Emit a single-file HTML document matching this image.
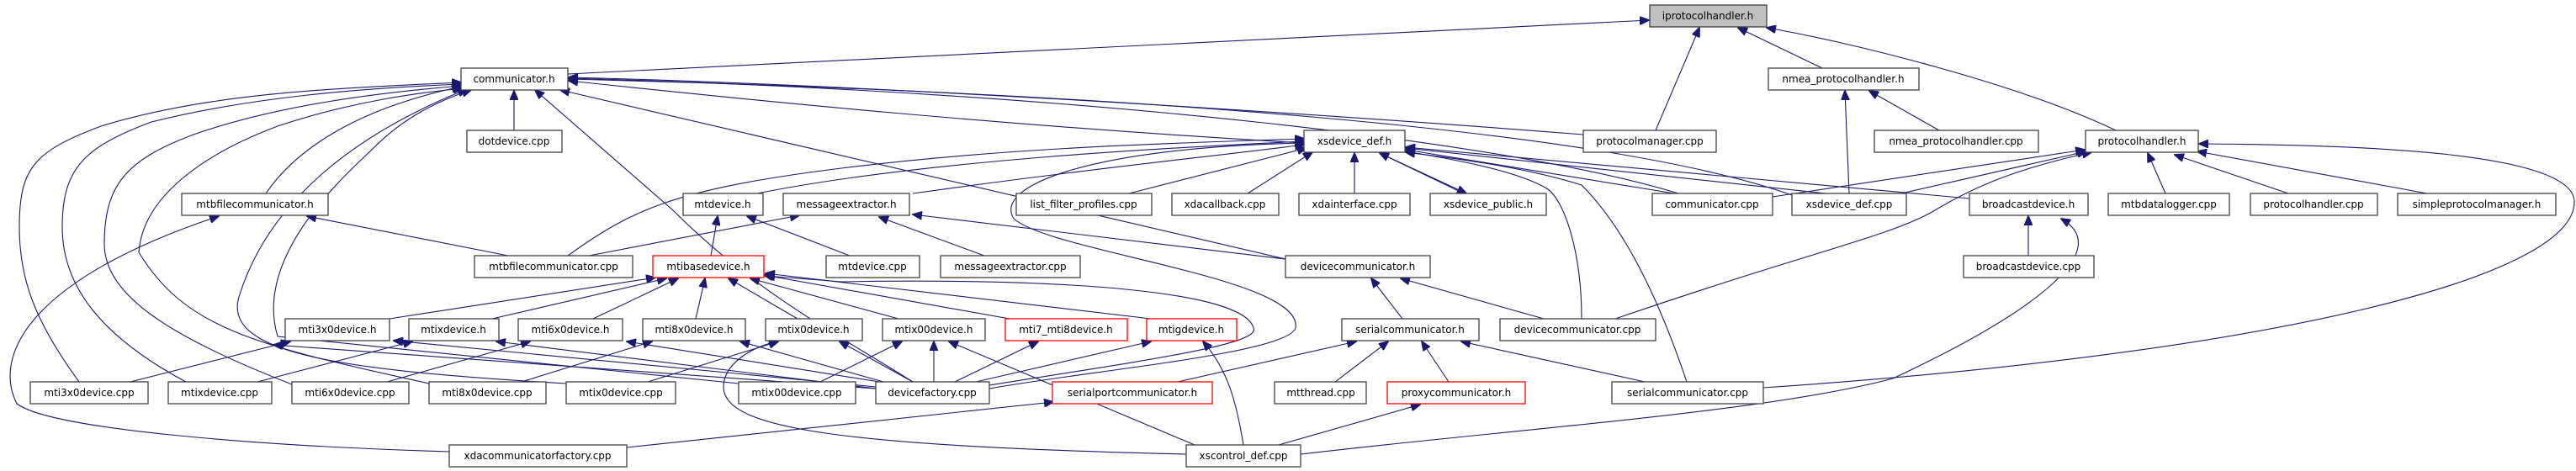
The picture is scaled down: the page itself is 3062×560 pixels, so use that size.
<!DOCTYPE html>
<html><head><meta charset="utf-8"><style>
html,body{margin:0;padding:0;background:#fff;}
svg{display:block;}
.n rect{fill:#fff;stroke:#404040;stroke-width:1.3;}
.r rect{fill:#fff;stroke:#ff0000;stroke-width:1.3;}
.g rect{fill:#bfbfbf;stroke:#404040;stroke-width:1.3;}
text{font-family:"DejaVu Sans","Liberation Sans",sans-serif;font-size:12px;fill:#000;text-anchor:middle;}
.e path{fill:none;stroke:#191970;stroke-width:1.1;marker-end:url(#a);}
</style></head><body>
<svg width="3062" height="560" viewBox="0 0 3062 560" xmlns="http://www.w3.org/2000/svg">
<defs><marker id="a" markerWidth="12" markerHeight="10" refX="11" refY="5" orient="auto" markerUnits="userSpaceOnUse"><path d="M0,0 L12,5 L0,10 z" fill="#191970" stroke="#191970"/></marker></defs>
<g class="e">
<!-- iprotocolhandler.h -->
<path d="M675 88 L1960 24"/>
<path d="M1968 155 L2020 33"/>
<path d="M2166 81 L2066 33"/>
<path d="M2515 155 C2400 100 2200 50 2100 33"/>
<!-- nmea_protocolhandler.h -->
<path d="M2198 230 L2193 108"/>
<path d="M2305 155 L2222 108"/>
<!-- communicator.h -->
<path d="M611 155 L611 108"/>
<path d="M316 230 C350 180 420 130 548 103"/>
<path d="M1550 170 C1200 150 900 120 676 96"/>
<path d="M1882 160 C1500 130 1000 100 676 92"/>
<path d="M1995 230 C1800 170 1300 110 676 93"/>
<path d="M2130 232 C1900 150 1300 110 676 94"/>
<path d="M1528 308 L666 107"/>
<path d="M94 454 C40 380 23 330 23 270 C23 200 40 180 120 150 C250 110 400 105 548 98"/>
<path d="M221 454 C120 400 74 340 74 270 C74 200 100 175 180 145 C300 115 430 105 548 100"/>
<path d="M347 457 C200 400 124 350 124 290 C124 220 150 190 230 160 C330 125 450 110 549 102"/>
<path d="M510 456 C300 410 220 390 165 300 C170 230 250 180 330 150 C420 120 500 110 550 105"/>
<path d="M673 456 C400 440 260 420 285 350 C320 240 420 160 555 106"/>
<path d="M878 456 L330 400 C300 300 420 200 445 175 C480 140 520 120 560 107"/>
<path d="M1041 462 L325 410"/>
<path d="M1085 454 C1000 400 900 350 800 250 L636 107"/>
<!-- xsdevice_def.h -->
<path d="M900 230 C1100 190 1400 175 1550 168"/>
<path d="M1085 230 C1300 200 1450 185 1550 172"/>
<path d="M1342 230 L1553 176"/>
<path d="M1483 230 L1560 181"/>
<path d="M675 304 C750 250 800 225 1000 200 C1200 175 1400 170 1550 165"/>
<path d="M1610 230 L1610 182"/>
<path d="M1740 230 L1640 182"/>
<path d="M1640 182 L1743 230"/>
<path d="M1990 230 L1671 178"/>
<path d="M2170 230 L1671 176"/>
<path d="M2341 236 L1671 175"/>
<path d="M1880 379 C1880 300 1860 240 1840 225 C1800 200 1700 185 1671 180"/>
<path d="M2005 454 C1980 380 1940 280 1880 220 C1800 195 1700 185 1671 181"/>
<path d="M1176 462 C1300 440 1530 420 1540 390 C1550 330 1250 300 1205 260 C1180 220 1300 175 1550 170"/>
<path d="M1176 458 C1350 430 1500 410 1490 390 C1480 350 1300 330 1000 335 L910 328"/>
<!-- protocolhandler.h -->
<path d="M2107 234 L2478 178"/>
<path d="M2260 230 L2480 180"/>
<path d="M1920 379 C2150 300 2250 280 2300 250 C2350 220 2400 200 2486 181"/>
<path d="M2574 230 L2553 182"/>
<path d="M2720 230 L2585 184"/>
<path d="M2885 230 L2612 180"/>
<path d="M2096 461 C2700 420 3060 330 3060 240 C3060 180 2800 172 2614 171"/>
<!-- broadcastdevice.h -->
<path d="M2411 304 L2411 257"/>
<path d="M1546 540 C1800 510 2100 490 2250 450 C2400 380 2520 300 2450 260"/>
<!-- mtbfilecommunicator.h -->
<path d="M604 304 L365 257"/>
<path d="M534 537 C300 530 60 510 20 480 C-10 420 40 330 260 257"/>
<!-- mtdevice.h / messageextractor.h -->
<path d="M845 304 L853 257"/>
<path d="M1010 304 L888 257"/>
<path d="M700 304 L950 256"/>
<path d="M1170 304 L1045 258"/>
<path d="M1528 308 L1085 255"/>
<!-- devicecommunicator.h -->
<path d="M1667 379 L1630 331"/>
<path d="M1835 379 L1665 331"/>
<!-- mtibasedevice.h -->
<path d="M463 379 L779 330"/>
<path d="M585 379 L792 331"/>
<path d="M705 379 L806 331"/>
<path d="M827 379 L838 331"/>
<path d="M948 379 L866 331"/>
<path d="M1068 379 L892 331"/>
<path d="M1200 379 L908 327"/>
<path d="M1368 379 L910 325"/>
<!-- device headers -->
<path d="M155 454 L345 406"/>
<path d="M1041 460 L468 405"/>
<path d="M306 454 L490 406"/>
<path d="M1041 462 L590 406"/>
<path d="M460 454 L630 406"/>
<path d="M1045 454 L745 406"/>
<path d="M620 454 L775 406"/>
<path d="M1050 454 L880 406"/>
<path d="M770 454 L925 406"/>
<path d="M1085 454 L998 406"/>
<path d="M1410 540 C1000 530 860 510 860 460 C860 430 900 410 925 406"/>
<path d="M975 454 L1072 406"/>
<path d="M1110 454 L1110 406"/>
<path d="M1420 529 L1128 406"/>
<path d="M1135 454 L1234 406"/>
<path d="M1160 454 L1368 406"/>
<path d="M1478 529 C1470 480 1460 440 1430 406"/>
<!-- serialcommunicator.h -->
<path d="M1400 454 L1612 406"/>
<path d="M1587 454 L1650 406"/>
<path d="M1722 454 L1690 406"/>
<path d="M1955 454 L1737 406"/>
<path d="M745 532 L1252 478"/>
<path d="M1520 529 L1688 481"/>
</g>
<g class="g"><rect x="1961" y="6" width="139" height="26"/><text x="2030" y="23">iprotocolhandler.h</text></g>
<g class="n"><rect x="548" y="81" width="127" height="26"/><text x="611" y="98">communicator.h</text></g>
<g class="n"><rect x="2102" y="81" width="179" height="26"/><text x="2191" y="98">nmea_protocolhandler.h</text></g>
<g class="n"><rect x="555" y="155" width="113" height="26"/><text x="611" y="172">dotdevice.cpp</text></g>
<g class="n"><rect x="1550" y="155" width="120" height="26"/><text x="1610" y="172">xsdevice_def.h</text></g>
<g class="n"><rect x="1882" y="155" width="158" height="26"/><text x="1961" y="172">protocolmanager.cpp</text></g>
<g class="n"><rect x="2228" y="155" width="195" height="26"/><text x="2325" y="172">nmea_protocolhandler.cpp</text></g>
<g class="n"><rect x="2479" y="155" width="134" height="26"/><text x="2546" y="172">protocolhandler.h</text></g>
<g class="n"><rect x="216" y="230" width="174" height="26"/><text x="303" y="247">mtbfilecommunicator.h</text></g>
<g class="n"><rect x="812" y="230" width="95" height="26"/><text x="859" y="247">mtdevice.h</text></g>
<g class="n"><rect x="931" y="230" width="150" height="26"/><text x="1006" y="247">messageextractor.h</text></g>
<g class="n"><rect x="1208" y="230" width="161" height="26"/><text x="1288" y="247">list_filter_profiles.cpp</text></g>
<g class="n"><rect x="1393" y="230" width="127" height="26"/><text x="1456" y="247">xdacallback.cpp</text></g>
<g class="n"><rect x="1544" y="230" width="132" height="26"/><text x="1610" y="247">xdainterface.cpp</text></g>
<g class="n"><rect x="1700" y="230" width="138" height="26"/><text x="1769" y="247">xsdevice_public.h</text></g>
<g class="n"><rect x="1964" y="230" width="143" height="26"/><text x="2035" y="247">communicator.cpp</text></g>
<g class="n"><rect x="2130" y="230" width="136" height="26"/><text x="2198" y="247">xsdevice_def.cpp</text></g>
<g class="n"><rect x="2341" y="230" width="141" height="26"/><text x="2411" y="247">broadcastdevice.h</text></g>
<g class="n"><rect x="2506" y="230" width="144" height="26"/><text x="2578" y="247">mtbdatalogger.cpp</text></g>
<g class="n"><rect x="2675" y="230" width="151" height="26"/><text x="2750" y="247">protocolhandler.cpp</text></g>
<g class="n"><rect x="2850" y="230" width="188" height="26"/><text x="2944" y="247">simpleprotocolmanager.h</text></g>
<g class="n"><rect x="564" y="304" width="188" height="26"/><text x="658" y="321">mtbfilecommunicator.cpp</text></g>
<g class="r"><rect x="776" y="304" width="132" height="26"/><text x="842" y="321">mtibasedevice.h</text></g>
<g class="n"><rect x="982" y="304" width="111" height="26"/><text x="1037" y="321">mtdevice.cpp</text></g>
<g class="n"><rect x="1118" y="304" width="166" height="26"/><text x="1201" y="321">messageextractor.cpp</text></g>
<g class="n"><rect x="1528" y="304" width="172" height="26"/><text x="1614" y="321">devicecommunicator.h</text></g>
<g class="n"><rect x="2334" y="304" width="155" height="26"/><text x="2411" y="321">broadcastdevice.cpp</text></g>
<g class="n"><rect x="339" y="379" width="124" height="26"/><text x="401" y="396">mti3x0device.h</text></g>
<g class="n"><rect x="486" y="379" width="107" height="26"/><text x="539" y="396">mtixdevice.h</text></g>
<g class="n"><rect x="616" y="379" width="124" height="26"/><text x="678" y="396">mti6x0device.h</text></g>
<g class="n"><rect x="764" y="379" width="122" height="26"/><text x="825" y="396">mti8x0device.h</text></g>
<g class="n"><rect x="910" y="379" width="115" height="26"/><text x="967" y="396">mtix0device.h</text></g>
<g class="n"><rect x="1049" y="379" width="122" height="26"/><text x="1110" y="396">mtix00device.h</text></g>
<g class="r"><rect x="1195" y="379" width="145" height="26"/><text x="1267" y="396">mti7_mti8device.h</text></g>
<g class="r"><rect x="1363" y="379" width="107" height="26"/><text x="1416" y="396">mtigdevice.h</text></g>
<g class="n"><rect x="1595" y="379" width="163" height="26"/><text x="1676" y="396">serialcommunicator.h</text></g>
<g class="n"><rect x="1783" y="379" width="185" height="26"/><text x="1875" y="396">devicecommunicator.cpp</text></g>
<g class="n"><rect x="36" y="454" width="140" height="26"/><text x="106" y="471">mti3x0device.cpp</text></g>
<g class="n"><rect x="200" y="454" width="123" height="26"/><text x="261" y="471">mtixdevice.cpp</text></g>
<g class="n"><rect x="347" y="454" width="139" height="26"/><text x="416" y="471">mti6x0device.cpp</text></g>
<g class="n"><rect x="510" y="454" width="139" height="26"/><text x="579" y="471">mti8x0device.cpp</text></g>
<g class="n"><rect x="673" y="454" width="130" height="26"/><text x="738" y="471">mtix0device.cpp</text></g>
<g class="n"><rect x="878" y="454" width="139" height="26"/><text x="947" y="471">mtix00device.cpp</text></g>
<g class="n"><rect x="1041" y="454" width="135" height="26"/><text x="1108" y="471">devicefactory.cpp</text></g>
<g class="r"><rect x="1251" y="454" width="190" height="26"/><text x="1346" y="471">serialportcommunicator.h</text></g>
<g class="n"><rect x="1515" y="454" width="109" height="26"/><text x="1570" y="471">mtthread.cpp</text></g>
<g class="r"><rect x="1649" y="454" width="164" height="26"/><text x="1731" y="471">proxycommunicator.h</text></g>
<g class="n"><rect x="1916" y="454" width="180" height="26"/><text x="2006" y="471">serialcommunicator.cpp</text></g>
<g class="n"><rect x="534" y="529" width="211" height="26"/><text x="639" y="546">xdacommunicatorfactory.cpp</text></g>
<g class="n"><rect x="1410" y="529" width="136" height="26"/><text x="1478" y="546">xscontrol_def.cpp</text></g>
</svg>
</body></html>
